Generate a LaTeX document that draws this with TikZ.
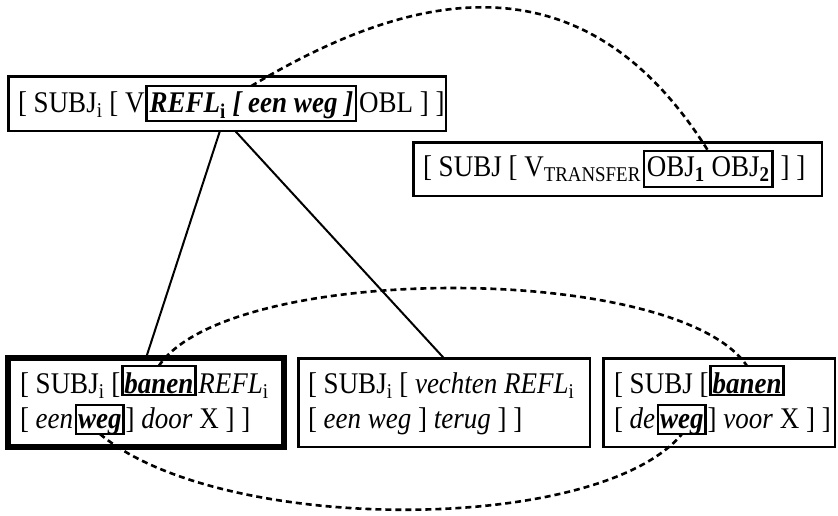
\documentclass[tikz,border=0pt]{standalone}
\usepackage{fontspec}
\setmainfont{Liberation Serif}[FakeStretch=0.9]
\newcommand\ms{\fontsize{30}{36}\selectfont}
\newcommand\sbi{\textsubscript{i}}
\newcommand\bi[1]{\textbf{\textit{#1}}}
\begin{document}
\begin{tikzpicture}[x=1pt,y=-1pt,
  outerbox/.style={draw, line width=2.5pt, inner sep=0pt, outer sep=0pt},
  thickbox/.style={draw, line width=6pt, inner sep=0pt, outer sep=0pt},
  txt/.style={inner sep=0pt, outer sep=0pt, anchor=base west, font=\ms},
  inbox/.style={draw, line width=2.5pt, inner xsep=3pt, inner ysep=0pt, outer sep=0pt, anchor=base west, font=\ms},
  tallbox/.style={inbox, text height=26pt, text depth=9pt},
  objbox/.style={inbox, text height=25pt, text depth=11pt},
  hibox/.style={inbox, inner xsep=2pt, text height=27pt, text depth=2pt},
  lobox/.style={inbox, inner xsep=2pt, text height=23pt, text depth=6pt},
  link/.style={line width=2pt},
  dsh/.style={line width=2.6pt, dash pattern=on 6pt off 4pt}]
\useasboundingbox (0,0) rectangle (838,515);
% outer boxes
\node[outerbox, minimum width=437.5pt, minimum height=54.5pt] (A) at (227,103.5) {};
\node[outerbox, minimum width=408.5pt, minimum height=53.5pt] (B) at (617.5,169) {};
\node[thickbox, minimum width=276pt, minimum height=89pt] (C) at (146,402.5) {};
\node[outerbox, minimum width=291.5pt, minimum height=88.5pt] (D) at (444,402.5) {};
\node[outerbox, minimum width=231.5pt, minimum height=88.5pt] (E) at (719,402.5) {};
% box A text
\node[txt] (a1) at (18,112) {[ SUBJ\sbi{} [ V};
\node[tallbox] (arefl) at ([xshift=2pt]a1.base east) {\bi{REFL}\textsubscript{\textbf{i}}\bi{ [ een weg ]}};
\node[txt] (a3) at ([xshift=3pt]arefl.base east) {OBL ] ]};
% box B text
\node[txt] (b1) at (423,176) {[ SUBJ [ V\textsubscript{TRANSFER}};
\node[objbox] (bobj) at ([xshift=3pt]b1.base east) {OBJ\textsubscript{\textbf{1}} OBJ\textsubscript{\textbf{2}}};
\node[txt] (b3) at ([xshift=8pt]bobj.base east) {] ]};
% box C text
\node[txt] (c1) at (20,393) {[ SUBJ\sbi{} [};
\node[hibox] (cban) at ([xshift=2pt]c1.base east) {\bi{banen}};
\node[txt] (c3) at ([xshift=3pt]cban.base east) {\textit{REFL}\sbi};
\node[txt] (c4) at (20,428) {[ \textit{een}};
\node[lobox] (cweg) at ([xshift=3pt]c4.base east) {\bi{weg}};
\node[txt] (c6) at ([xshift=2pt]cweg.base east) {] \textit{door} X ] ]};
% box D text
\node[txt] (d1) at (308,393) {[ SUBJ\sbi{} [ \textit{vechten REFL}\sbi};
\node[txt] (d2) at (308,428) {[ \textit{een weg} ] \textit{terug} ] ]};
% box E text
\node[txt] (e1) at (614,393) {[ SUBJ [};
\node[hibox] (eban) at ([xshift=2pt]e1.base east) {\bi{banen}};
\node[txt] (e4) at (614,428) {[ \textit{de}};
\node[lobox] (eweg) at ([xshift=3pt]e4.base east) {\bi{weg}};
\node[txt] (e6) at ([xshift=2pt]eweg.base east) {] \textit{voor} X ] ]};
% tree links
\draw[link] ([xshift=-7pt]A.south) -- (C.north);
\draw[link] ([xshift=8pt]A.south) -- (D.north);
% dashed relations
\draw[dsh] (arefl.north) .. controls +(160,-96) and +(-125,-200) .. (bobj.north);
\draw[dsh] (cban.north) .. controls +(70,-104) and +(-70,-104) .. (eban.north);
\draw[dsh] (cweg.south) .. controls +(120,101) and +(-84,101) .. (eweg.south);
\end{tikzpicture}
\end{document}
